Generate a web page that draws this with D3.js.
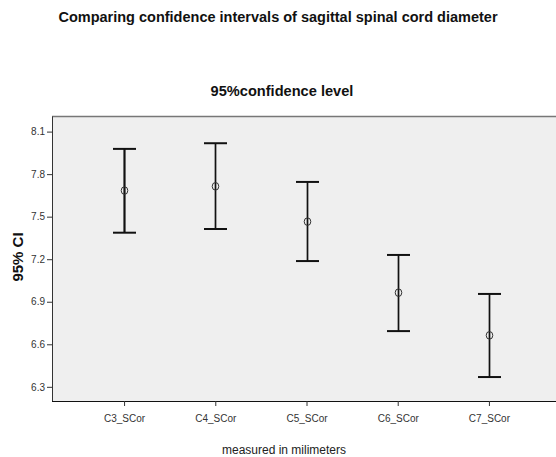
<!DOCTYPE html>
<html><head><meta charset="utf-8">
<script src="https://cdn.jsdelivr.net/npm/d3@7"></script>
<style>body{margin:0;background:#fff}svg{display:block}</style>
</head><body>
<svg id="c" width="556" height="457"></svg>
<script>
const categories = ["C3_SCor","C4_SCor","C5_SCor","C6_SCor","C7_SCor"];
const means = [7.684, 7.714, 7.465, 6.964, 6.663];
const upper = [7.978, 8.018, 7.745, 7.230, 6.955];
const lower = [7.387, 7.413, 7.187, 6.693, 6.369];
const yTicks = [6.3, 6.6, 6.9, 7.2, 7.5, 7.8, 8.1];

const svg = d3.select("#c");
const font = "'Liberation Sans', Arial, sans-serif";
const L = 52, R = 561, T = 116, B = 401;

const x = d3.scalePoint().domain(categories).range([L, R]).padding(0.79);
const y = d3.scaleLinear().domain([6.2, 8.21]).range([B, T]);

svg.append("rect").attr("x", L).attr("y", T).attr("width", 556 - L).attr("height", B - T).attr("fill", "#efefef");
svg.append("line").attr("x1", L).attr("x2", 556).attr("y1", T + 0.5).attr("y2", T + 0.5).attr("stroke", "#777").attr("stroke-width", 1.5);

const ya = svg.append("g").attr("transform", `translate(${L},0)`)
  .call(d3.axisLeft(y).tickValues(yTicks).tickSize(5).tickSizeOuter(0).tickPadding(2).tickFormat(d3.format(".1f")));
ya.select(".domain").attr("stroke", "#333");
ya.selectAll(".tick line").attr("stroke", "#333");
ya.selectAll("text").attr("font-family", font).attr("font-size", 10).attr("fill", "#333");

const xa = svg.append("g").attr("transform", `translate(0,${B})`)
  .call(d3.axisBottom(x).tickSize(5).tickSizeOuter(0).tickPadding(9));
xa.select(".domain").attr("stroke", "#111").attr("d", `M${L},0.5H556`);
xa.selectAll(".tick line").attr("stroke", "#333");
xa.selectAll("text").attr("font-family", font).attr("font-size", 10).attr("fill", "#333");

const data = categories.map((c, i) => ({c, m: means[i], u: upper[i], l: lower[i], i}));
const g = svg.append("g");
const cap = 11.5;
data.forEach(d => {
  const cx = Math.round(x(d.c)) + 0.5;
  const sw = d.i === 0 ? 2.2 : 1.7;
  g.append("line").attr("x1", cx).attr("x2", cx).attr("y1", y(d.u)).attr("y2", y(d.l)).attr("stroke", "#111").attr("stroke-width", sw);
  g.append("line").attr("x1", cx - cap).attr("x2", cx + cap).attr("y1", y(d.u)).attr("y2", y(d.u)).attr("stroke", "#111").attr("stroke-width", 2);
  g.append("line").attr("x1", cx - cap).attr("x2", cx + cap).attr("y1", y(d.l)).attr("y2", y(d.l)).attr("stroke", "#111").attr("stroke-width", 2);
  g.append("ellipse").attr("cx", cx).attr("cy", y(d.m)).attr("rx", 3.3).attr("ry", 3.8).attr("fill", "none").attr("stroke", "#333").attr("stroke-width", 1);
});

svg.append("text").attr("x", 278).attr("y", 22).attr("text-anchor", "middle").attr("font-family", font).attr("font-weight", "bold").attr("font-size", 14.5).attr("fill", "#111").text("Comparing confidence intervals of sagittal spinal cord diameter");
svg.append("text").attr("x", 282).attr("y", 95.5).attr("text-anchor", "middle").attr("font-family", font).attr("font-weight", "bold").attr("font-size", 14.6).attr("fill", "#111").text("95%confidence level");
svg.append("text").attr("transform", "translate(23,257) rotate(-90)").attr("text-anchor", "middle").attr("font-family", font).attr("font-weight", "bold").attr("font-size", 15).attr("fill", "#111").text("95% CI");
svg.append("text").attr("x", 284).attr("y", 453.5).attr("text-anchor", "middle").attr("font-family", font).attr("font-size", 12).attr("fill", "#222").text("measured in milimeters");
</script>
</body></html>
